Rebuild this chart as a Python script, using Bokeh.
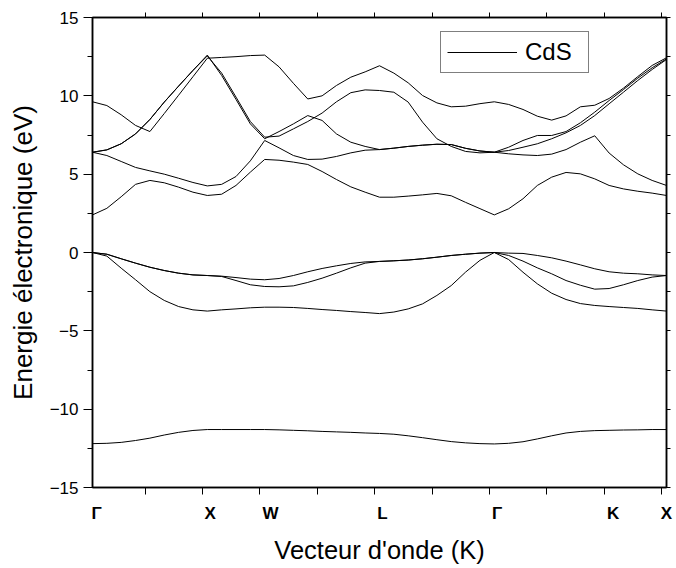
from bokeh.plotting import figure
from bokeh.models import Range1d, LinearAxis, FixedTicker, Legend, LegendItem
from bokeh.embed import file_html
from bokeh.resources import INLINE

# k-path coordinate (Gamma=0, X=2, W=3, L=5, Gamma=7, K=9, X=10)
k = [0.0, 0.25, 0.5, 0.75, 1.0, 1.25, 1.5, 1.75, 2.0,
     2.25, 2.5, 2.75, 3.0,
     3.25, 3.5, 3.75, 4.0, 4.25, 4.5, 4.75, 5.0,
     5.25, 5.5, 5.75, 6.0, 6.25, 6.5, 6.75, 7.0,
     7.25, 7.5, 7.75, 8.0, 8.25, 8.5, 8.75, 9.0, 9.25, 9.5, 9.75, 10.0]

band_s = [-12.2, -12.18, -12.12, -12.0, -11.85, -11.65, -11.48, -11.36, -11.3,
          -11.3, -11.3, -11.3, -11.3,
          -11.32, -11.35, -11.38, -11.42, -11.45, -11.48, -11.52, -11.55,
          -11.6, -11.7, -11.82, -11.95, -12.07, -12.15, -12.2, -12.22,
          -12.18, -12.08, -11.9, -11.7, -11.52, -11.42, -11.37, -11.35, -11.33, -11.32, -11.3, -11.3]

vb_low = [0.0, -0.23, -1.0, -1.74, -2.5, -3.06, -3.45, -3.66, -3.74,
          -3.66, -3.6, -3.53, -3.49,
          -3.49, -3.51, -3.57, -3.64, -3.7, -3.77, -3.83, -3.9,
          -3.8, -3.6, -3.28, -2.74, -2.11, -1.25, -0.5, 0.0,
          -0.45, -1.26, -2.0, -2.6, -3.0, -3.26, -3.38, -3.45, -3.51, -3.57, -3.66, -3.74]

vb_mid = [0.0, -0.11, -0.4, -0.68, -0.94, -1.15, -1.32, -1.43, -1.47,
          -1.53, -1.79, -2.06, -2.17,
          -2.19, -2.13, -1.91, -1.64, -1.32, -0.98, -0.68, -0.57,
          -0.53, -0.48, -0.4, -0.3, -0.19, -0.11, -0.04, 0.0,
          -0.19, -0.55, -0.98, -1.36, -1.79, -2.09, -2.34, -2.3, -2.06, -1.79, -1.57, -1.47]

vb_top = [0.0, -0.11, -0.4, -0.68, -0.94, -1.15, -1.32, -1.43, -1.47,
          -1.51, -1.6, -1.7, -1.74,
          -1.66, -1.47, -1.23, -1.02, -0.85, -0.7, -0.6, -0.57,
          -0.53, -0.48, -0.4, -0.3, -0.19, -0.11, -0.04, 0.0,
          -0.04, -0.06, -0.19, -0.34, -0.55, -0.79, -1.04, -1.23, -1.32, -1.36, -1.43, -1.47]

cb1 = [2.4, 2.82, 3.56, 4.35, 4.6, 4.45, 4.17, 3.85, 3.64,
       3.72, 4.28, 5.13, 5.94,
       5.89, 5.77, 5.62, 5.17, 4.66, 4.19, 3.85, 3.53,
       3.53, 3.6, 3.68, 3.77, 3.62, 3.2, 2.8, 2.4,
       2.79, 3.43, 4.28, 4.81, 5.11, 5.02, 4.7, 4.28, 4.06, 3.91, 3.79, 3.64]

cb2 = [6.4, 6.19, 5.81, 5.43, 5.21, 5.0, 4.74, 4.47, 4.25,
       4.35, 4.85, 5.85, 7.15,
       6.68, 6.19, 5.94, 5.96, 6.13, 6.36, 6.53, 6.57,
       6.66, 6.77, 6.85, 6.91, 6.89, 6.65, 6.48, 6.4,
       6.3, 6.23, 6.19, 6.28, 6.57, 7.04, 7.45, 6.35, 5.6, 5.02, 4.6, 4.28]

cb3 = [6.4, 6.55, 6.94, 7.57, 8.49, 9.6, 10.62, 11.62, 12.6,
       11.3, 9.77, 8.21, 7.26,
       7.72, 8.21, 8.74, 8.43, 7.57, 7.04, 6.77, 6.57,
       6.66, 6.77, 6.85, 6.91, 6.89, 6.65, 6.48, 6.4,
       6.51, 6.72, 6.94, 7.26, 7.64, 8.11, 8.74, 9.49, 10.23, 10.98, 11.68, 12.32]

cb4 = [6.4, 6.55, 6.94, 7.57, 8.49, 9.6, 10.62, 11.62, 12.55,
       11.45, 9.92, 8.36, 7.36,
       7.43, 7.89, 8.36, 8.9, 9.62, 10.2, 10.38, 10.34,
       10.23, 9.6, 8.32, 7.26, 6.77, 6.45, 6.36, 6.4,
       6.72, 7.15, 7.47, 7.47, 7.72, 8.28, 8.96, 9.7, 10.4, 11.13, 11.79, 12.36]

cb5 = [9.62, 9.38, 8.79, 8.11, 7.72, 8.87, 10.04, 11.22, 12.4,
       12.45, 12.5, 12.57, 12.6,
       11.85, 10.8, 9.8, 10.0, 10.66, 11.19, 11.53, 11.92,
       11.45, 10.83, 10.02, 9.55, 9.3, 9.34, 9.5, 9.62,
       9.45, 9.13, 8.7, 8.45, 8.72, 9.3, 9.4, 9.83, 10.49, 11.23, 11.94, 12.43]

bands = [cb5, band_s, vb_low, vb_mid, vb_top, cb1, cb2, cb3, cb4]

# high-symmetry point labels
kpt_names = ["Γ", "X", "W", "L", "Γ", "K", "X"]
kpt_pos = [0.07, 2.05, 3.1, 5.05, 7.05, 9.07, 10.0]

x_ticks = [0.915, 1.915, 2.915, 3.915, 4.915, 5.915, 6.915, 7.915, 8.915, 9.915]
y_major = [-15, -10, -5, 0, 5, 10, 15]
y_minor = [-12.5, -7.5, -2.5, 2.5, 7.5, 12.5]

FONT = "Liberation Sans"

p = figure(width=676, height=568, output_backend="svg", toolbar_location=None,
           x_range=Range1d(0, 10), y_range=Range1d(-15, 15),
           x_axis_location=None, y_axis_location=None,
           min_border_left=92, min_border_right=10, min_border_top=17, min_border_bottom=81)
p.grid.visible = False
p.outline_line_color = "black"
p.outline_line_width = 1.5
p.background_fill_color = "white"
p.border_fill_color = "white"

renderers = []
for b in bands:
    r = p.line(k, b, line_color="black", line_width=1)
    renderers.append(r)

bottom = LinearAxis(ticker=FixedTicker(ticks=kpt_pos, minor_ticks=x_ticks),
                    axis_label="Vecteur d'onde (K)")
top = LinearAxis(ticker=FixedTicker(ticks=[], minor_ticks=x_ticks))
left = LinearAxis(ticker=FixedTicker(ticks=y_major, minor_ticks=y_minor),
                  axis_label="Energie électronique (eV)")
right = LinearAxis(ticker=FixedTicker(ticks=[], minor_ticks=y_major + y_minor))

for ax in (bottom, top, left, right):
    ax.axis_line_color = "black"
    ax.axis_line_width = 1.5
    ax.major_tick_line_color = "black"
    ax.minor_tick_line_color = "black"
    ax.major_tick_line_width = 1
    ax.minor_tick_line_width = 1
    ax.major_tick_in = 0
    ax.minor_tick_in = 0
    ax.major_label_text_font = FONT
    ax.major_label_text_color = "black"
    ax.axis_label_text_font = FONT
    ax.axis_label_text_font_style = "normal"
    ax.axis_label_text_color = "black"

bottom.major_tick_out = 0
bottom.major_tick_line_color = None
bottom.minor_tick_out = 7
bottom.major_label_overrides = {pos: name for pos, name in zip(kpt_pos, kpt_names)}
bottom.major_label_text_font_size = "17px"
bottom.major_label_text_font_style = "bold"
bottom.major_label_standoff = 9
bottom.axis_label_text_font_size = "25.5px"
bottom.axis_label_standoff = 10

top.major_tick_out = 0
top.minor_tick_out = 5
right.major_tick_out = 0
right.minor_tick_out = 4

left.major_tick_out = 9
left.minor_tick_out = 5
left.major_label_text_font_size = "17px"
left.major_label_standoff = 5
left.axis_label_text_font_size = "26px"
left.axis_label_standoff = 9

p.add_layout(bottom, "below")
p.add_layout(top, "above")
p.add_layout(left, "left")
p.add_layout(right, "right")

legend = Legend(items=[LegendItem(label="CdS", renderers=[renderers[0]])],
                location=(348, 414))
legend.border_line_color = "black"
legend.border_line_width = 1
legend.background_fill_color = "white"
legend.background_fill_alpha = 1
legend.label_text_font = FONT
legend.label_text_font_size = "24px"
legend.label_text_color = "black"
legend.glyph_width = 70
legend.glyph_height = 20
legend.label_standoff = 8
legend.label_width = 57
legend.padding = 6
legend.margin = 0
p.add_layout(legend)

open("out.html", "w").write(file_html(p, INLINE))
